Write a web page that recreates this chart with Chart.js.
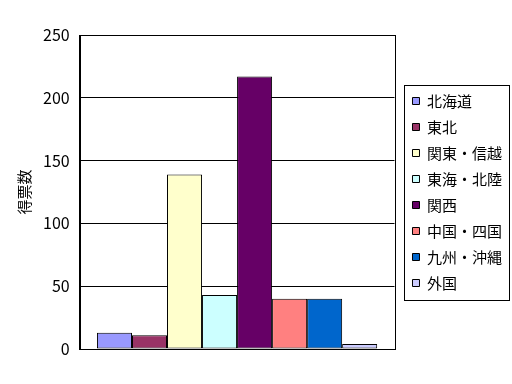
<!DOCTYPE html>
<html>
<head>
<meta charset="utf-8">
<script src="https://cdn.jsdelivr.net/npm/chart.js@4/dist/chart.umd.min.js"></script>
<style>
  html, body { margin: 0; padding: 0; background: #fff; }
  #wrap { width: 512px; height: 384px; }
</style>
</head>
<body>
<div id="wrap"><canvas id="voteChart" width="512" height="384"></canvas></div>
<script>
/*===================================================================
   Data
==================================================================*/
const regions = ['北海道', '東北', '関東・信越', '東海・北陸', '関西', '中国・四国', '九州・沖縄', '外国']
const votes = [13, 11, 139, 43, 217, 40, 40, 4]
const colors = ['#9999FF', '#993366', '#FFFFCC', '#CCFFFF', '#660066', '#FF8080', '#0066CC', '#CCCCFF']
const yTicks = [0, 50, 100, 150, 200, 250]
const yTitle = '得票数'

const FONT = "'Noto Sans CJK JP', 'DejaVu Sans', sans-serif"

/*===================================================================
   frame around plot area + legend box
==================================================================*/
const framePlugin = {
  id: 'frame',
  afterLayout(chart) {
    // nudge legend a bit right of the plot, like the original
    chart.legend.left += 7
    chart.legend.right += 7
  },
  afterDraw(chart) {
    const ctx = chart.ctx
    const a = chart.chartArea
    ctx.save()
    ctx.strokeStyle = '#000'
    ctx.lineWidth = 1
    ctx.strokeRect(Math.round(a.left) + 0.5, Math.round(a.top) + 0.5,
      Math.round(a.right - a.left), Math.round(a.bottom - a.top))
    const boxes = chart.legend.legendHitBoxes
    if (boxes && boxes.length) {
      const last = boxes[boxes.length - 1]
      const top = boxes[0].top - 9
      const bottom = last.top + last.height + 9
      const left = chart.legend.left + 3
      const right = chart.legend.right - 3
      ctx.strokeRect(Math.round(left) + 0.5, Math.round(top) + 0.5,
        Math.round(right - left), Math.round(bottom - top))
    }
    ctx.restore()
  }
}

/*===================================================================
   Chart
==================================================================*/
const ctx = document.getElementById('voteChart').getContext('2d')
const myChart = new Chart(ctx, {
  type: 'bar',
  data: {
    labels: [''],
    datasets: regions.map((r, i) => ({
      label: r,
      data: [votes[i]],
      backgroundColor: colors[i],
      borderColor: '#000',
      borderWidth: 1,
      borderSkipped: false
    }))
  },
  options: {
    responsive: false,
    animation: false,
    layout: { padding: { left: 15, top: 35, bottom: 35, right: 7 } },
    datasets: { bar: { barPercentage: 1, categoryPercentage: 0.89 } },
    plugins: {
      tooltip: { enabled: false },
      legend: {
        position: 'right',
        labels: {
          color: '#000',
          boxWidth: 7,
          boxHeight: 7,
          padding: 11,
          font: { family: FONT, size: 15 }
        }
      }
    },
    scales: {
      x: { display: false },
      y: {
        min: 0,
        max: 250,
        afterBuildTicks: (axis) => { axis.ticks = yTicks.map(v => ({ value: v })) },
        grid: { color: '#000', lineWidth: 1, drawTicks: false },
        border: { color: '#000', width: 1 },
        ticks: { color: '#000', padding: 10, font: { family: FONT, size: 16 } },
        title: { display: true, text: yTitle, color: '#000', padding: 0, font: { family: FONT, size: 15 } }
      }
    }
  },
  plugins: [framePlugin]
})
</script>
</body>
</html>
